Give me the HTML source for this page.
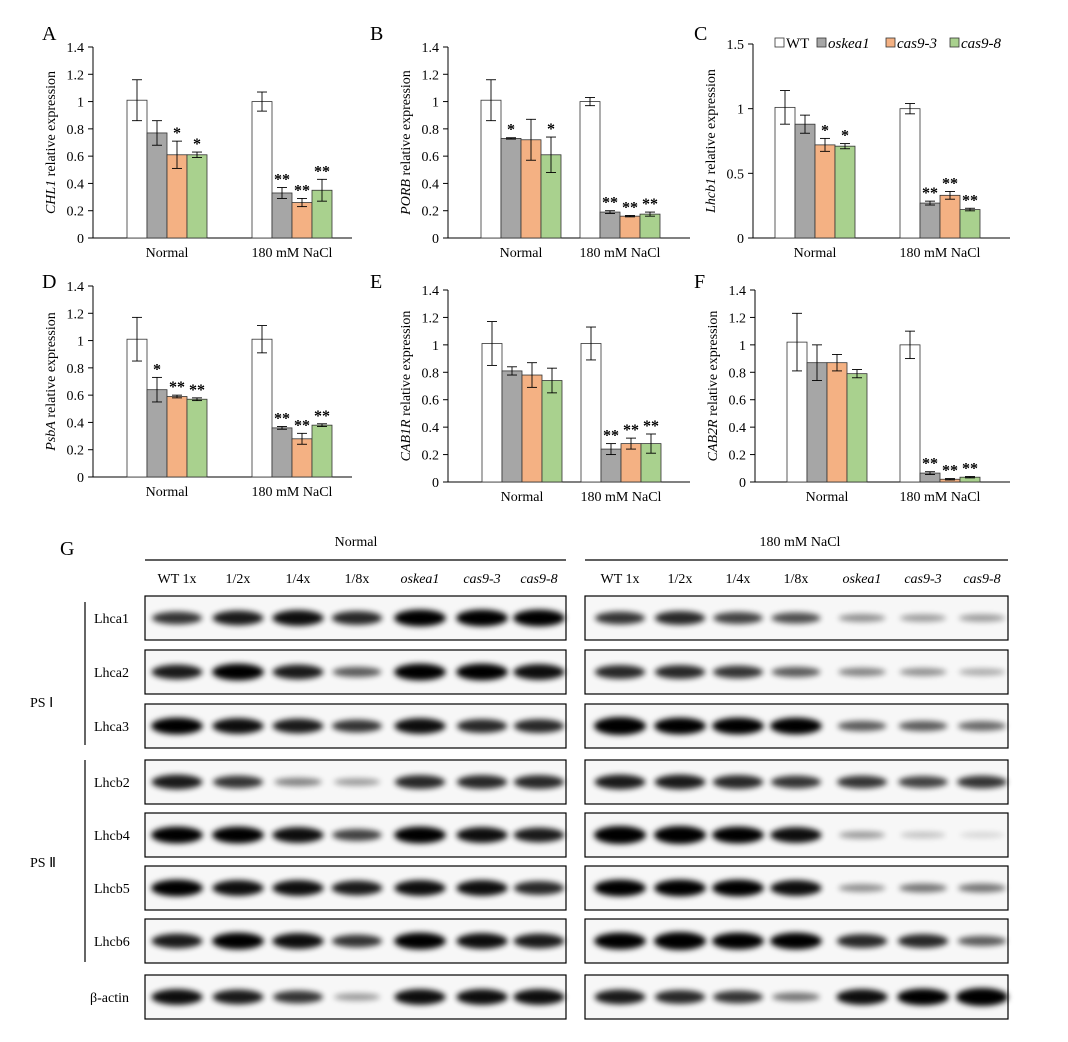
<!DOCTYPE html>
<html><head><meta charset="utf-8">
<style>
body{margin:0;background:#fff;}
svg{display:block;font-family:"Liberation Serif",serif;}
</style></head>
<body>
<svg id="fig" width="1068" height="1042" viewBox="0 0 1068 1042" xmlns="http://www.w3.org/2000/svg">
<defs>
<filter id="blur" x="-50%" y="-100%" width="200%" height="300%"><feGaussianBlur stdDeviation="3"/></filter>
</defs>
</svg>
<script>
const NS='http://www.w3.org/2000/svg';
const svg=document.getElementById('fig');
function mk(tag,attrs,parent,text){const e=document.createElementNS(NS,tag);for(const k in attrs)e.setAttribute(k,attrs[k]);if(text!==undefined)e.textContent=text;(parent||svg).appendChild(e);return e;}

const colors=['#ffffff','#a6a6a6','#f4b183','#a9d18e'];
const genotypes=['WT','oskea1','cas9-3','cas9-8'];
const groups=['Normal','180 mM NaCl'];

// Panel data
const genesA='CHL1', normA=[1.01,0.77,0.61,0.61], normErrA=[0.15,0.09,0.10,0.02], normStarA=['','','*','*'], saltA=[1.00,0.33,0.26,0.35], saltErrA=[0.07,0.04,0.03,0.08], saltStarA=['','**','**','**'];
const genesB='PORB', normB=[1.01,0.73,0.72,0.61], normErrB=[0.15,0.005,0.15,0.13], normStarB=['','*','','*'], saltB=[1.00,0.19,0.16,0.175], saltErrB=[0.03,0.01,0.005,0.015], saltStarB=['','**','**','**'];
const genesC='Lhcb1', normC=[1.01,0.88,0.72,0.71], normErrC=[0.13,0.07,0.05,0.02], normStarC=['','','*','*'], saltC=[1.00,0.27,0.33,0.22], saltErrC=[0.04,0.015,0.03,0.01], saltStarC=['','**','**','**'];
const genesD='PsbA', normD=[1.01,0.64,0.59,0.57], normErrD=[0.16,0.09,0.01,0.01], normStarD=['','*','**','**'], saltD=[1.01,0.36,0.28,0.38], saltErrD=[0.10,0.01,0.04,0.01], saltStarD=['','**','**','**'];
const genesE='CAB1R', normE=[1.01,0.81,0.78,0.74], normErrE=[0.16,0.03,0.09,0.09], normStarE=['','','',''], saltE=[1.01,0.24,0.28,0.28], saltErrE=[0.12,0.04,0.04,0.07], saltStarE=['','**','**','**'];
const genesF='CAB2R', normF=[1.02,0.87,0.87,0.79], normErrF=[0.21,0.13,0.06,0.03], normStarF=['','','',''], saltF=[1.00,0.065,0.02,0.035], saltErrF=[0.10,0.01,0.005,0.005], saltStarF=['','**','**','**'];
const ticks14=[0,0.2,0.4,0.6,0.8,1,1.2,1.4];
const ticks15=[0,0.5,1,1.5];

function panel(name,letter,gene,x0,x1,yTop,yBot,max,ticks,centers,lx,ly,data){
  const g=mk('g',{},svg);
  
  
  const y=v=>yBot-(v/max)*(yBot-yTop);
  mk('text',{x:lx,y:ly,'font-size':20},g,letter);
  mk('line',{x1:x0,y1:yTop,x2:x0,y2:yBot,stroke:'#000','stroke-width':1},g);
  mk('line',{x1:x0,y1:yBot,x2:x1,y2:yBot,stroke:'#000','stroke-width':1},g);
  ticks.forEach(t=>{
    mk('line',{x1:x0-5,y1:y(t),x2:x0,y2:y(t),stroke:'#000'},g);
    const tl=mk('text',{x:x0-9,y:y(t)+5,'font-size':14,'text-anchor':'end'},g,String(t));
    
    
  });
  const yc=(yTop+yBot)/2;
  const tt=mk('text',{x:0,y:0,'font-size':14,'text-anchor':'middle',transform:`translate(${x0-38},${yc}) rotate(-90)`},g);
  
  
  mk('tspan',{'font-style':'italic'},tt,gene);
  mk('tspan',{},tt,' relative expression');
  data.forEach((d,gi)=>{
    const cx=centers[gi];
    const xl=mk('text',{x:cx,y:yBot+19,'font-size':14,'text-anchor':'middle'},g,groups[gi]);
    
    
    d.v.forEach((v,i)=>{
      const bx=cx-40+i*20;
      const r=mk('rect',{x:bx,y:y(v),width:20,height:yBot-y(v),fill:colors[i],stroke:'#333','stroke-width':0.8},g);
      
      
      const hi=y(v+d.e[i]),lo=y(Math.max(0,v-d.e[i])),m=bx+10;
      mk('line',{x1:m,y1:hi,x2:m,y2:lo,stroke:'#000','stroke-width':0.9},g);
      mk('line',{x1:m-5,y1:hi,x2:m+5,y2:hi,stroke:'#000','stroke-width':0.9},g);
      mk('line',{x1:m-5,y1:lo,x2:m+5,y2:lo,stroke:'#000','stroke-width':0.9},g);
      if(d.s[i]) mk('text',{x:m,y:hi-3,'font-size':16,'font-weight':'bold','text-anchor':'middle'},g,d.s[i]);
    });
  });
}
panel('A','A',genesA,93,352,47,238,1.4,ticks14,[167,292],42,40,[{v:normA,e:normErrA,s:normStarA},{v:saltA,e:saltErrA,s:saltStarA}]);
panel('B','B',genesB,448,690,47,238,1.4,ticks14,[521,620],370,40,[{v:normB,e:normErrB,s:normStarB},{v:saltB,e:saltErrB,s:saltStarB}]);
panel('C','C',genesC,753,1010,44,238,1.5,ticks15,[815,940],694,40,[{v:normC,e:normErrC,s:normStarC},{v:saltC,e:saltErrC,s:saltStarC}]);
panel('D','D',genesD,93,352,286,477,1.4,ticks14,[167,292],42,288,[{v:normD,e:normErrD,s:normStarD},{v:saltD,e:saltErrD,s:saltStarD}]);
panel('E','E',genesE,448,690,290,482,1.4,ticks14,[522,621],370,288,[{v:normE,e:normErrE,s:normStarE},{v:saltE,e:saltErrE,s:saltStarE}]);
panel('F','F',genesF,755,1010,290,482,1.4,ticks14,[827,940],694,288,[{v:normF,e:normErrF,s:normStarF},{v:saltF,e:saltErrF,s:saltStarF}]);

// legend
const leg=mk('g',{},svg);


const legX=[775,817,886,950];
genotypes.forEach((n,i)=>{
  mk('rect',{x:legX[i],y:38,width:9,height:9,fill:colors[i],stroke:'#333','stroke-width':0.8},leg);
  mk('text',{x:legX[i]+11,y:48,'font-size':15,'font-style':i?'italic':'normal'},leg,n);
});

// Western blots
const rows=['Lhca1','Lhca2','Lhca3','Lhcb2','Lhcb4','Lhcb5','Lhcb6','β-actin'];
const rowY=[596,650,704,760,813,866,919,975];
const lanesL=[177,238,298,357,420,482,539];
const lanesR=[620,680,738,796,862,923,982];
const laneNames=['WT 1x','1/2x','1/4x','1/8x','oskea1','cas9-3','cas9-8'];
const bandsNormal=[
 [0.75,0.85,0.9,0.8,0.95,0.95,0.95],
 [0.85,0.95,0.85,0.6,0.95,0.95,0.9],
 [0.95,0.9,0.85,0.75,0.9,0.8,0.8],
 [0.85,0.75,0.45,0.35,0.8,0.8,0.8],
 [0.95,0.95,0.9,0.7,0.95,0.9,0.85],
 [0.95,0.9,0.9,0.85,0.9,0.9,0.8],
 [0.85,0.95,0.9,0.75,0.95,0.9,0.85],
 [0.9,0.85,0.75,0.35,0.9,0.9,0.9]];
const bandsSalt=[
 [0.75,0.8,0.7,0.65,0.4,0.35,0.35],
 [0.8,0.8,0.75,0.6,0.45,0.4,0.3],
 [1,0.95,0.95,0.95,0.6,0.6,0.55],
 [0.85,0.85,0.8,0.75,0.75,0.7,0.75],
 [1,1,0.95,0.9,0.35,0.2,0.12],
 [0.95,0.95,0.95,0.9,0.4,0.5,0.5],
 [0.95,1,0.95,0.95,0.8,0.8,0.6],
 [0.85,0.8,0.75,0.5,0.9,0.95,1]];
const wb=mk('g',{},svg);


mk('text',{x:60,y:555,'font-size':20},wb,'G');
mk('text',{x:356,y:546,'font-size':14,'text-anchor':'middle'},wb,'Normal');
mk('text',{x:800,y:546,'font-size':14,'text-anchor':'middle'},wb,'180 mM NaCl');
mk('line',{x1:145,y1:560,x2:566,y2:560,stroke:'#000','stroke-width':1.2},wb);
mk('line',{x1:585,y1:560,x2:1008,y2:560,stroke:'#000','stroke-width':1.2},wb);
[lanesL,lanesR].forEach(ls=>ls.forEach((x,i)=>{
  mk('text',{x:x,y:583,'font-size':14,'text-anchor':'middle','font-style':i>3?'italic':'normal'},wb,laneNames[i]);
}));
mk('line',{x1:85,y1:602,x2:85,y2:745,stroke:'#000','stroke-width':1.2},wb);
mk('line',{x1:85,y1:760,x2:85,y2:962,stroke:'#000','stroke-width':1.2},wb);
mk('text',{x:30,y:707,'font-size':14},wb,'PS Ⅰ');
mk('text',{x:30,y:867,'font-size':14},wb,'PS Ⅱ');
rows.forEach((r,ri)=>{
  const yy=rowY[ri];
  const lab=mk('text',{x:r==='β-actin'?90:94,y:yy+27,'font-size':14},wb,r);
  
  
  [[145,421,lanesL,bandsNormal],[585,423,lanesR,bandsSalt]].forEach(([bx,bw,ls,bd])=>{
    const box=mk('rect',{x:bx,y:yy,width:bw,height:44,fill:'#f7f7f7',stroke:'#000','stroke-width':1.2},wb);
    
    
    ls.forEach((x,i)=>{
      const a=bd[ri][i];
      mk('ellipse',{cx:x,cy:yy+22,rx:22+4*a,ry:3+6*a*a,fill:'#000',opacity:Math.min(1,a*1.05),filter:'url(#blur)'},wb);
    });
  });
});
</script>
</body></html>
